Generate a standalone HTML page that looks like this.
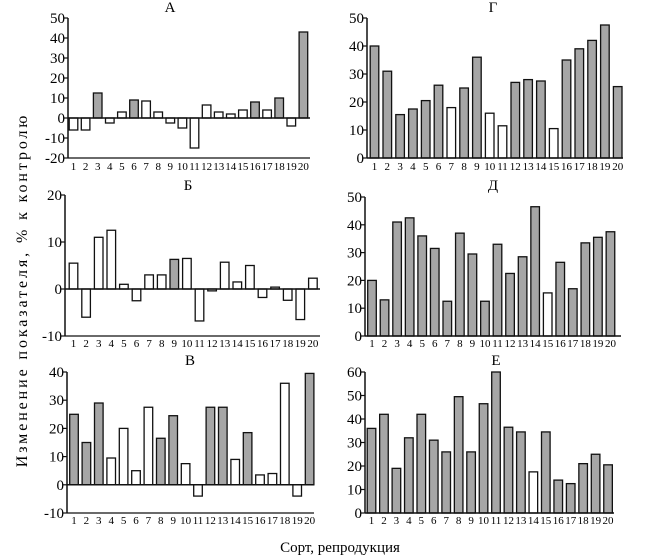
<!DOCTYPE html>
<html><head><meta charset="utf-8"><style>
body{margin:0;background:#fff;}
svg{display:block;font-family:"Liberation Serif",serif;}
</style></head><body>
<svg id="chart" width="650" height="558">
<text x="27" y="290" font-size="16" letter-spacing="2.9" text-anchor="middle" transform="rotate(-90 27 290)">Изменение показателя, % к контролю</text>
<text x="340" y="552" font-size="15" text-anchor="middle">Сорт, репродукция</text>
</svg>
<script>
const categories = ["1","2","3","4","5","6","7","8","9","10","11","12","13","14","15","16","17","18","19","20"];
const valuesA = [-6,-6,12.5,-2.5,3,9,8.5,3,-2.5,-5,-15,6.5,3,2,4,8,4,10,-4,43];
const grayA = [3,6,16,18,20];
const valuesB = [5.5,-6,11,12.5,1,-2.5,3,3,6.3,6.5,-6.8,-0.4,5.7,1.5,5,-1.8,0.4,-2.4,-6.5,2.3];
const grayB = [9];
const valuesV = [25,15,29,9.5,20,5,27.5,16.5,24.5,7.5,-4,27.5,27.5,9,18.5,3.5,4,36,-4,39.5];
const grayV = [1,2,3,8,9,12,13,15,20];
const valuesG = [40,31,15.5,17.5,20.5,26,18,25,36,16,11.5,27,28,27.5,10.5,35,39,42,47.5,25.5];
const grayG = [1,2,3,4,5,6,8,9,12,13,14,16,17,18,19,20];
const valuesD = [20,13,41,42.5,36,31.5,12.5,37,29.5,12.5,33,22.5,28.5,46.5,15.5,26.5,17,33.5,35.5,37.5];
const grayD = [1,2,3,4,5,6,7,8,9,10,11,12,13,14,16,17,18,19,20];
const valuesE = [36,42,19,32,42,31,26,49.5,26,46.5,60,36.5,34.5,17.5,34.5,14,12.5,21,25,20.5];
const grayE = [1,2,3,4,5,6,7,8,9,10,11,12,13,15,16,17,18,19,20];
const ticksA = [-20,-10,0,10,20,30,40,50];
const ticksB = [-10,0,10,20];
const ticksV = [-10,0,10,20,30,40];
const ticksG = [0,10,20,30,40,50];
const ticksD = [0,10,20,30,40,50];
const ticksE = [0,10,20,30,40,50,60];

const svg = document.getElementById('chart');
const NS = 'http://www.w3.org/2000/svg';
function mk(tag, attrs, parent){const e=document.createElementNS(NS,tag);for(const k in attrs)e.setAttribute(k,attrs[k]);parent.appendChild(e);return e;}

function panel(key, title, vals, gray, ticks, L){
  const g = mk('g',{},svg);
  
  
  const min = ticks[0], max = ticks[ticks.length-1];
  const y = v => L.yMin + (v-min)/(max-min)*(L.yMax-L.yMin);
  const x = i => L.c1 + i*L.step;
  const t = mk('text',{x:L.tx,y:L.ty,'font-size':15,'text-anchor':'middle'},g);
  t.textContent = title;
  
  
  vals.forEach((v,i)=>{
    const top = Math.min(y(v),y(0)), h = Math.abs(y(v)-y(0));
    const r = mk('rect',{x:x(i)-4.3,y:top,width:8.6,height:Math.max(h,0.8),fill:gray.includes(i+1)?'#a6a6a6':'#fff',stroke:'#111','stroke-width':1.3},g);
    
    
    const lb = mk('text',{x:x(i),y:L.ly,'font-size':11,'text-anchor':'middle'},g);
    lb.textContent = categories[i];
    
    
  });
  const ax = mk('line',{x1:L.ax,x2:L.ax,y1:y(max),y2:y(min),stroke:'#111','stroke-width':1.5},g);
  
  
  const xa = mk('line',{x1:L.ax,x2:L.end,y1:y(0),y2:y(0),stroke:'#111','stroke-width':1.5},g);
  
  
  if(min<0){
    const xb = mk('line',{x1:L.ax,x2:L.end,y1:y(min),y2:y(min),stroke:'#111','stroke-width':1.2},g);
    
    
  }
  ticks.forEach(tv=>{
    mk('line',{x1:L.ax-4,x2:L.ax,y1:y(tv),y2:y(tv),stroke:'#111','stroke-width':1.2},g);
    const tt = mk('text',{x:L.ax-3,y:y(tv)+5,'font-size':15,'text-anchor':'end'},g);
    tt.textContent = tv;
    
    
  });
}
panel('a','А',valuesA,grayA,ticksA,{ax:68,end:310,yMin:158,yMax:18,c1:73.5,step:12.1,ly:170,tx:170,ty:12});
panel('g','Г',valuesG,grayG,ticksG,{ax:367,end:623,yMin:158,yMax:18,c1:374.5,step:12.8,ly:170,tx:493,ty:12});
panel('b','Б',valuesB,grayB,ticksB,{ax:65,end:320,yMin:336,yMax:195,c1:73.5,step:12.6,ly:347,tx:188,ty:190});
panel('d','Д',valuesD,grayD,ticksD,{ax:365,end:621,yMin:336,yMax:197,c1:372,step:12.55,ly:347,tx:493,ty:190});
panel('v','В',valuesV,grayV,ticksV,{ax:67,end:314,yMin:513,yMax:372,c1:74,step:12.4,ly:524,tx:190,ty:365});
panel('e','Е',valuesE,grayE,ticksE,{ax:365,end:614,yMin:513,yMax:372,c1:371.5,step:12.45,ly:524,tx:496,ty:365});
</script>
</body></html>
